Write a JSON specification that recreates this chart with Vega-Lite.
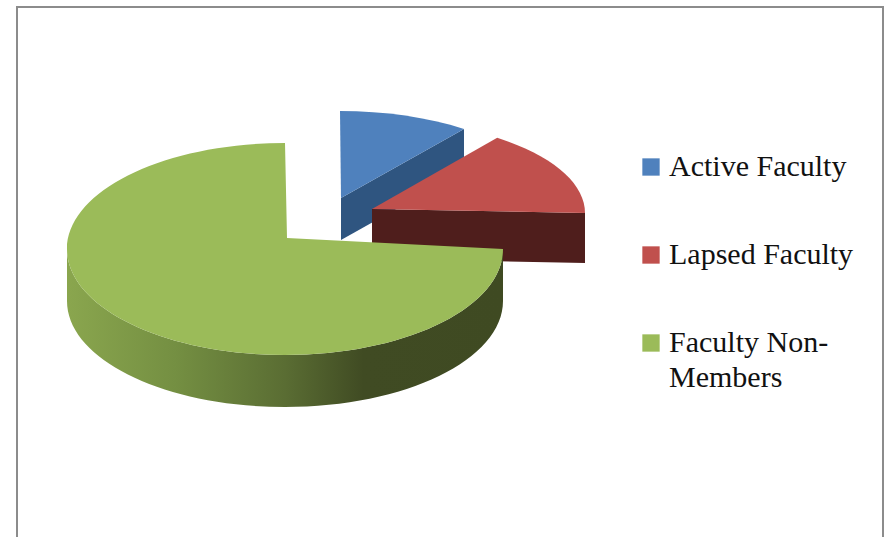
{
  "$schema": "https://vega.github.io/schema/vega-lite/v6.json",
  "width": 866,
  "height": 540,
  "autosize": {"type": "none"},
  "padding": {"left": 17, "top": 7, "right": 9, "bottom": -10},
  "background": "white",
  "view": {"stroke": "#8c8c8c", "strokeWidth": 2, "fill": "white"},
  "data": {"values": [
    {"Slice": "Active Faculty", "share": 10},
    {"Slice": "Lapsed Faculty", "share": 15},
    {"Slice": "Faculty Non-Members", "share": 75}
  ]},
  "transform": [
    {"window": [{"op": "sum", "field": "share", "as": "cum"}], "frame": [null, 0]},
    {"calculate": "2*PI*(datum.cum-datum.share)/100", "as": "a0"},
    {"calculate": "2*PI*datum.cum/100", "as": "a1"},
    {"calculate": "(datum.Slice==='Active Faculty'?340:datum.Slice==='Lapsed Faculty'?372:285)-450", "as": "cx"},
    {"calculate": "(datum.Slice==='Active Faculty'?205:datum.Slice==='Lapsed Faculty'?213:249)-277", "as": "cy"},
    {"calculate": "datum.Slice==='Active Faculty'?211:datum.Slice==='Lapsed Faculty'?213:218", "as": "rx"},
    {"calculate": "datum.Slice==='Active Faculty'?94:datum.Slice==='Lapsed Faculty'?93:106", "as": "ry"},
    {"calculate": "(datum.Slice==='Active Faculty'?341:datum.Slice==='Lapsed Faculty'?372:287)-450", "as": "ax"},
    {"calculate": "(datum.Slice==='Active Faculty'?198:datum.Slice==='Lapsed Faculty'?209:238)-277", "as": "ay"},
    {"calculate": "datum.Slice==='Active Faculty'?42:datum.Slice==='Lapsed Faculty'?50:52", "as": "depth"},
    {"calculate": "datum.cx+datum.rx*sin(datum.a0)", "as": "x0"},
    {"calculate": "datum.cy-datum.ry*cos(datum.a0)", "as": "y0"},
    {"calculate": "datum.cx+datum.rx*sin(datum.a1)", "as": "x1"},
    {"calculate": "datum.cy-datum.ry*cos(datum.a1)", "as": "y1"},
    {"calculate": "'M'+datum.ax+','+datum.ay+'L'+datum.x0+','+datum.y0+'A'+datum.rx+','+datum.ry+',0,'+(datum.a1-datum.a0>PI?1:0)+',1,'+datum.x1+','+datum.y1+'Z'", "as": "topPath"},
    {"calculate": "'M'+datum.ax+','+datum.ay+'L'+datum.x1+','+datum.y1+'L'+datum.x1+','+(datum.y1+datum.depth)+'L'+datum.ax+','+(datum.ay+datum.depth)+'Z'", "as": "facePath"},
    {"calculate": "'M'+(datum.cx+datum.rx)+','+datum.cy+'A'+datum.rx+','+datum.ry+',0,0,1,'+(datum.cx-datum.rx)+','+datum.cy+'L'+(datum.cx-datum.rx)+','+(datum.cy+datum.depth)+'A'+datum.rx+','+datum.ry+',0,0,0,'+(datum.cx+datum.rx)+','+(datum.cy+datum.depth)+'Z'", "as": "wallPath"}
  ],
  "layer": [
    {
      "transform": [{"filter": "datum.Slice==='Active Faculty'"}],
      "mark": {"type": "point", "filled": true, "size": 4, "opacity": 1, "fill": "#2F5580", "strokeWidth": 0},
      "encoding": {"shape": {"field": "facePath", "type": "nominal", "scale": null}}
    },
    {
      "transform": [{"filter": "datum.Slice==='Lapsed Faculty'"}],
      "mark": {"type": "point", "filled": true, "size": 4, "opacity": 1, "fill": "#4F1E1C", "strokeWidth": 0},
      "encoding": {"shape": {"field": "facePath", "type": "nominal", "scale": null}}
    },
    {
      "transform": [{"filter": "datum.Slice==='Faculty Non-Members'"}],
      "mark": {
        "type": "point", "filled": true, "size": 4, "opacity": 1, "strokeWidth": 0,
        "fill": {"gradient": "linear", "x1": 0, "x2": 1, "y1": 0, "y2": 0, "stops": [
          {"offset": 0, "color": "#8AA64E"},
          {"offset": 0.25, "color": "#748F42"},
          {"offset": 0.5, "color": "#5A6D33"},
          {"offset": 0.68, "color": "#404B23"},
          {"offset": 1, "color": "#3F4A22"}
        ]}
      },
      "encoding": {"shape": {"field": "wallPath", "type": "nominal", "scale": null}}
    },
    {
      "mark": {"type": "point", "filled": true, "size": 4, "opacity": 1, "strokeWidth": 0},
      "encoding": {
        "shape": {"field": "topPath", "type": "nominal", "scale": null},
        "color": {
          "field": "Slice", "type": "nominal",
          "scale": {
            "domain": ["Active Faculty", "Lapsed Faculty", "Faculty Non-Members"],
            "range": ["#4F81BD", "#C0504D", "#9BBB59"]
          },
          "legend": {
            "title": null,
            "orient": "none",
            "legendX": 619,
            "legendY": 145,
            "symbolType": "square",
            "symbolSize": 300,
            "symbolStrokeWidth": 0,
            "symbolOpacity": 1,
            "labelFont": "Liberation Serif",
            "labelFontSize": 30,
            "labelColor": "#111111",
            "labelLimit": 300,
            "labelOffset": 3,
            "rowPadding": 58,
            "labelExpr": "datum.label==='Faculty Non-Members'?['Faculty Non-','Members']:datum.label",
            "encode": {"labels": {"update": {"lineHeight": {"value": 35}}}}
          }
        }
      }
    }
  ]
}
